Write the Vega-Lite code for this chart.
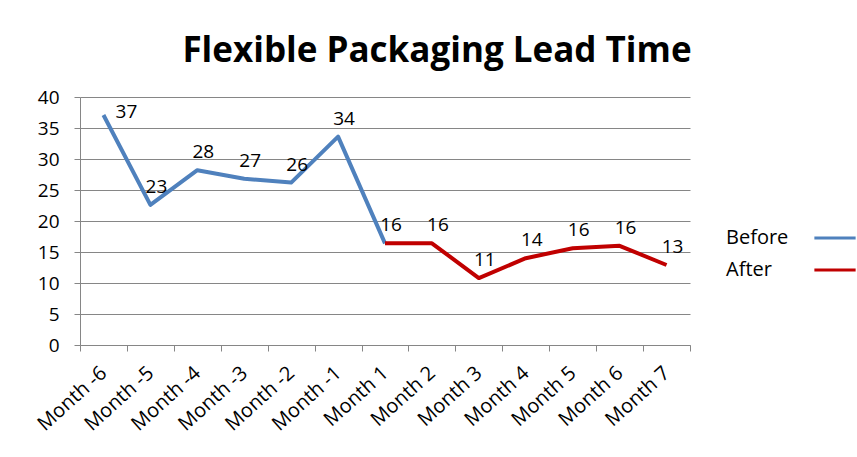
{
  "$schema": "https://vega.github.io/schema/vega-lite/v6.json",
  "width": 610,
  "height": 248,
  "autosize": "none",
  "padding": {"left": 80, "top": 97, "right": 167, "bottom": 112},
  "background": "white",
  "title": {
    "text": "Flexible Packaging Lead Time",
    "font": "Open Sans",
    "fontSize": 35,
    "fontWeight": "bold",
    "color": "#000000",
    "anchor": "middle",
    "dx": 52,
    "offset": 19
  },
  "data": {
    "values": [
      {"month": "Month -6", "value": 37.1, "series": "Before"},
      {"month": "Month -5", "value": 22.6, "series": "Before"},
      {"month": "Month -4", "value": 28.2, "series": "Before"},
      {"month": "Month -3", "value": 26.8, "series": "Before"},
      {"month": "Month -2", "value": 26.2, "series": "Before"},
      {"month": "Month -1", "value": 33.6, "series": "Before"},
      {"month": "Month 1", "value": 16.4, "series": "Before"},
      {"month": "Month 1", "value": 16.4, "series": "After"},
      {"month": "Month 2", "value": 16.4, "series": "After"},
      {"month": "Month 3", "value": 10.8, "series": "After"},
      {"month": "Month 4", "value": 14.0, "series": "After"},
      {"month": "Month 5", "value": 15.6, "series": "After"},
      {"month": "Month 6", "value": 16.0, "series": "After"},
      {"month": "Month 7", "value": 12.9, "series": "After"}
    ]
  },
  "encoding": {
    "x": {
      "field": "month",
      "type": "nominal",
      "sort": null,
      "scale": {"paddingInner": 0, "paddingOuter": 0},
      "axis": {
        "title": null,
        "labelAngle": -42,
        "labelAlign": "right",
        "labelBaseline": "middle",
        "labelFont": "Open Sans",
        "labelFontSize": 20,
        "labelColor": "#000000",
        "labelPadding": 19,
        "tickBand": "extent",
        "tickColor": "#868686",
        "tickSize": 6,
        "domainColor": "#868686",
        "grid": false
      }
    },
    "y": {
      "field": "value",
      "type": "quantitative",
      "scale": {"domain": [0, 40], "nice": false},
      "axis": {
        "title": null,
        "values": [0, 5, 10, 15, 20, 25, 30, 35, 40],
        "labelFont": "Open Sans",
        "labelFontSize": 19,
        "labelColor": "#000000",
        "labelPadding": 15,
        "tickColor": "#868686",
        "tickSize": 6,
        "domainColor": "#868686",
        "gridColor": "#868686",
        "gridOpacity": 1
      }
    }
  },
  "layer": [
    {
      "mark": {"type": "line", "strokeWidth": 4, "strokeJoin": "round"},
      "encoding": {
        "color": {
          "field": "series",
          "type": "nominal",
          "scale": {"domain": ["Before", "After"], "range": ["#4F81BD", "#C00000"]},
          "legend": {
            "title": null,
            "orient": "none",
            "legendX": 737,
            "legendY": 123,
            "symbolType": "M-1.25,0H1.25",
            "symbolSize": 1089,
            "symbolStrokeWidth": 3,
            "labelFont": "Open Sans",
            "labelFontSize": 20,
            "labelColor": "#000000",
            "labelAlign": "left",
            "labelOffset": -127,
            "rowPadding": 4
          }
        }
      }
    },
    {
      "transform": [{"filter": "datum.month !== 'Month -6' && !(datum.month === 'Month 1' && datum.series === 'Before')"}],
      "mark": {"type": "text", "font": "Open Sans", "fontSize": 19, "color": "#000000", "dx": 6, "dy": -18, "align": "center", "baseline": "middle"},
      "encoding": {"text": {"field": "value", "type": "quantitative", "format": ".0f"}}
    },
    {
      "transform": [{"filter": "datum.month === 'Month -6'"}],
      "mark": {"type": "text", "font": "Open Sans", "fontSize": 19, "color": "#000000", "dx": 23, "dy": -3, "align": "center", "baseline": "middle"},
      "encoding": {"text": {"field": "value", "type": "quantitative", "format": ".0f"}}
    }
  ],
  "config": {"view": {"stroke": null}}
}
